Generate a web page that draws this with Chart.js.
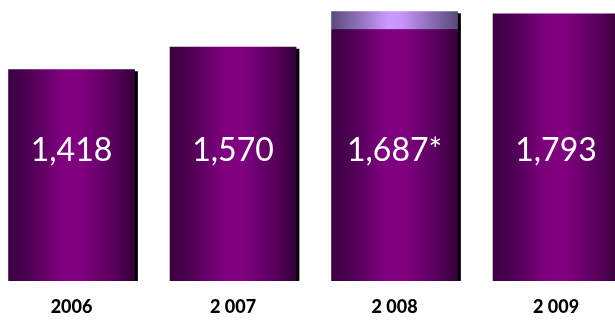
<!DOCTYPE html>
<html>
<head>
<meta charset="utf-8">
<script src="https://cdn.jsdelivr.net/npm/chart.js@4"></script>
<style>
  html, body { margin: 0; padding: 0; background: #fff; }
  #wrap { width: 615px; height: 323px; }
</style>
</head>
<body>
<div id="wrap"><canvas id="myChart"></canvas></div>
<script>
const years = ["2006", "2 007", "2 008", "2 009"];
const values = [1418, 1570, 1687, 1793];
const valueLabels = ["1,418", "1,570", "1,687*", "1,793"];
// light top part on the 2008 bar
const extra = [null, null, 121, null];

function purpleGrad(ctx) {
  const chart = ctx.chart;
  if (!chart.chartArea || !ctx.raw) return "#800080";
  const cx = chart.scales.x.getPixelForValue(ctx.raw.x);
  const g = chart.ctx.createLinearGradient(cx - 63, 0, cx + 63, 0);
  g.addColorStop(0, "#3c0041");
  g.addColorStop(0.15, "#4c0052");
  g.addColorStop(0.42, "#7e007e");
  g.addColorStop(0.58, "#800080");
  g.addColorStop(0.85, "#55005a");
  g.addColorStop(1, "#330037");
  return g;
}

function lilacGrad(ctx) {
  const chart = ctx.chart;
  if (!chart.chartArea || !ctx.raw) return "#cc99ff";
  const cx = chart.scales.x.getPixelForValue(ctx.raw.x);
  const g = chart.ctx.createLinearGradient(cx - 63, 0, cx + 63, 0);
  g.addColorStop(0, "#5a4a7c");
  g.addColorStop(0.45, "#cc99ff");
  g.addColorStop(0.55, "#c896fa");
  g.addColorStop(1, "#58487a");
  return g;
}

// black drop shadow on the right of each bar
const shadowPlugin = {
  id: "shadow",
  beforeDatasetsDraw(chart) {
    const c = chart.ctx;
    c.save();
    c.shadowColor = "#000";
    c.shadowOffsetX = 3;
    c.shadowOffsetY = 2;
    c.shadowBlur = 0;
  },
  afterDatasetsDraw(chart) {
    chart.ctx.restore();
  }
};

const valuePlugin = {
  id: "valueLabels",
  afterDraw(chart) {
    const c = chart.ctx;
    const meta = chart.getDatasetMeta(0);
    c.save();
    c.fillStyle = "#fff";
    c.font = "32px Lato";
    c.textAlign = "center";
    c.textBaseline = "middle";
    meta.data.forEach((bar, i) => {
      c.fillText(valueLabels[i], bar.x, 151);
    });
    c.restore();
  }
};

new Chart(document.getElementById("myChart"), {
  type: "bar",
  data: {
    datasets: [
      {
        data: values.map((v, i) => ({ x: i, y: v })),
        backgroundColor: purpleGrad,
        barThickness: 126,
        borderWidth: 0
      },
      {
        data: extra.map((v, i) => ({ x: i, y: v })),
        backgroundColor: lilacGrad,
        barThickness: 126,
        borderWidth: 0
      }
    ]
  },
  options: {
    responsive: true,
    maintainAspectRatio: false,
    animation: false,
    layout: { padding: 0 },
    plugins: {
      legend: { display: false },
      tooltip: { enabled: false }
    },
    scales: {
      x: {
        type: "linear",
        stacked: true,
        offset: false,
        min: -0.443,
        max: 3.365,
        grid: { display: false, offset: false },
        border: { display: false },
        afterBuildTicks(scale) {
          scale.ticks = years.map((_, i) => ({ value: i }));
        },
        afterFit(scale) {
          scale.height = 42;
        },
        ticks: {
          padding: 7,
          color: "#000",
          font: { family: "Lato", size: 18, weight: 900 },
          maxRotation: 0,
          autoSkip: false,
          callback: (v) => years[v]
        }
      },
      y: {
        stacked: true,
        display: false,
        min: 0,
        max: 1885
      }
    }
  },
  plugins: [shadowPlugin, valuePlugin]
});
</script>
</body>
</html>
